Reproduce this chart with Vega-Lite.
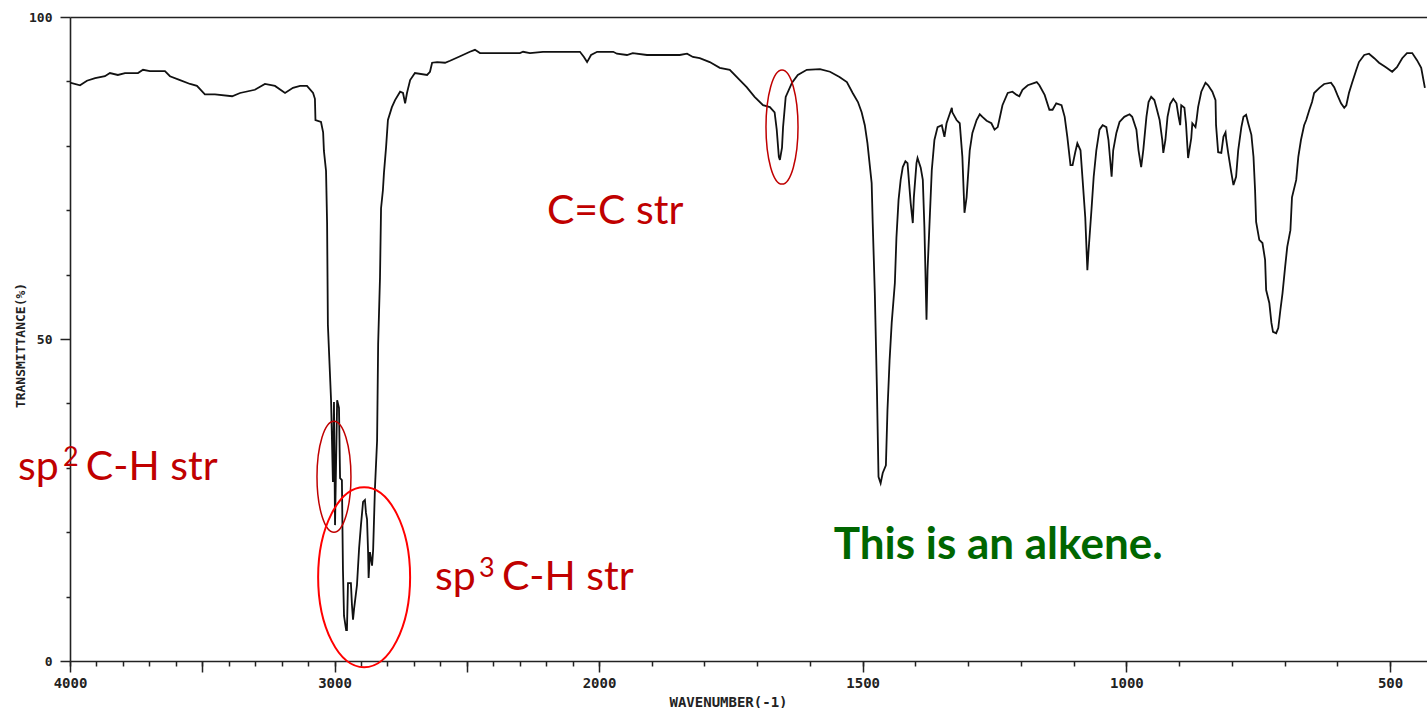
{
  "$schema": "https://vega.github.io/schema/vega-lite/v6.json",
  "width": 1357,
  "height": 644,
  "autosize": {"type": "none"},
  "padding": {"left": 70, "top": 17, "right": 0, "bottom": 47},
  "background": "white",
  "config": {"view": {"stroke": null}, "axis": {"grid": false}},
  "resolve": {"axis": {"x": "independent", "y": "independent"}},
  "layer": [
    {
      "data": {"values": [
        {"wn":4000,"t":89.8},{"wn":3962,"t":89.4},{"wn":3936,"t":90.1},{"wn":3905,"t":90.5},{"wn":3868,"t":90.8},{"wn":3849,"t":91.3},{"wn":3819,"t":91.0},{"wn":3792,"t":91.3},{"wn":3743,"t":91.3},{"wn":3724,"t":91.8},{"wn":3698,"t":91.6},{"wn":3641,"t":91.6},{"wn":3622,"t":90.8},{"wn":3584,"t":90.2},{"wn":3546,"t":89.6},{"wn":3520,"t":89.3},{"wn":3490,"t":88.0},{"wn":3452,"t":88.0},{"wn":3387,"t":87.7},{"wn":3357,"t":88.2},{"wn":3301,"t":88.7},{"wn":3263,"t":89.6},{"wn":3225,"t":89.3},{"wn":3187,"t":88.2},{"wn":3157,"t":89.0},{"wn":3130,"t":89.3},{"wn":3104,"t":89.3},{"wn":3081,"t":88.2},{"wn":3074,"t":87.3},{"wn":3072,"t":84.0},{"wn":3051,"t":83.7},{"wn":3043,"t":82.1},{"wn":3040,"t":79.2},{"wn":3032,"t":76.1},{"wn":3028,"t":68.0},{"wn":3025,"t":52.2},{"wn":3013,"t":40.5},{"wn":3006,"t":27.8},{"wn":3002,"t":40.2},{"wn":2998,"t":21.1},{"wn":2990,"t":40.5},{"wn":2983,"t":39.3},{"wn":2979,"t":28.4},{"wn":2972,"t":28.1},{"wn":2968,"t":14.1},{"wn":2964,"t":7.0},{"wn":2956,"t":4.8},{"wn":2953,"t":4.8},{"wn":2949,"t":12.1},{"wn":2938,"t":12.1},{"wn":2934,"t":8.7},{"wn":2930,"t":6.4},{"wn":2926,"t":8.1},{"wn":2915,"t":11.8},{"wn":2907,"t":17.5},{"wn":2900,"t":21.1},{"wn":2892,"t":24.7},{"wn":2885,"t":25.0},{"wn":2881,"t":23.0},{"wn":2877,"t":22.0},{"wn":2873,"t":16.9},{"wn":2871,"t":12.9},{"wn":2866,"t":16.9},{"wn":2858,"t":14.8},{"wn":2854,"t":17.2},{"wn":2847,"t":26.9},{"wn":2839,"t":34.2},{"wn":2835,"t":49.2},{"wn":2828,"t":59.5},{"wn":2824,"t":70.3},{"wn":2817,"t":73.1},{"wn":2813,"t":75.8},{"wn":2805,"t":79.8},{"wn":2798,"t":84.0},{"wn":2783,"t":86.0},{"wn":2771,"t":87.1},{"wn":2752,"t":88.4},{"wn":2741,"t":88.2},{"wn":2733,"t":86.6},{"wn":2726,"t":88.2},{"wn":2714,"t":90.2},{"wn":2696,"t":91.3},{"wn":2650,"t":91.0},{"wn":2639,"t":91.5},{"wn":2631,"t":92.9},{"wn":2612,"t":93.0},{"wn":2582,"t":92.9},{"wn":2563,"t":93.2},{"wn":2525,"t":93.9},{"wn":2488,"t":94.6},{"wn":2469,"t":94.9},{"wn":2450,"t":94.4},{"wn":2423,"t":94.4},{"wn":2299,"t":94.4},{"wn":2287,"t":94.6},{"wn":2261,"t":94.4},{"wn":2212,"t":94.6},{"wn":2072,"t":94.6},{"wn":2057,"t":93.8},{"wn":2045,"t":93.0},{"wn":2030,"t":94.1},{"wn":2007,"t":94.6},{"wn":1973,"t":94.6},{"wn":1966,"t":94.3},{"wn":1947,"t":94.1},{"wn":1936,"t":94.4},{"wn":1909,"t":94.1},{"wn":1847,"t":94.1},{"wn":1833,"t":94.3},{"wn":1822,"t":93.8},{"wn":1809,"t":93.6},{"wn":1790,"t":93.0},{"wn":1771,"t":92.1},{"wn":1752,"t":91.8},{"wn":1733,"t":90.2},{"wn":1720,"t":89.1},{"wn":1705,"t":87.6},{"wn":1689,"t":86.3},{"wn":1676,"t":86.0},{"wn":1667,"t":85.2},{"wn":1663,"t":82.5},{"wn":1659,"t":78.3},{"wn":1657,"t":77.8},{"wn":1653,"t":79.7},{"wn":1651,"t":82.9},{"wn":1646,"t":87.6},{"wn":1634,"t":89.8},{"wn":1623,"t":91.0},{"wn":1606,"t":91.8},{"wn":1581,"t":91.9},{"wn":1562,"t":91.5},{"wn":1544,"t":90.7},{"wn":1530,"t":89.9},{"wn":1519,"t":88.2},{"wn":1509,"t":86.8},{"wn":1502,"t":85.2},{"wn":1496,"t":83.2},{"wn":1491,"t":80.4},{"wn":1487,"t":77.3},{"wn":1483,"t":74.2},{"wn":1481,"t":68.0},{"wn":1477,"t":57.1},{"wn":1473,"t":42.1},{"wn":1470,"t":28.6},{"wn":1466,"t":27.6},{"wn":1462,"t":29.2},{"wn":1456,"t":30.4},{"wn":1453,"t":39.0},{"wn":1449,"t":46.7},{"wn":1445,"t":52.5},{"wn":1439,"t":58.7},{"wn":1436,"t":65.8},{"wn":1432,"t":71.6},{"wn":1428,"t":74.7},{"wn":1424,"t":76.7},{"wn":1419,"t":77.6},{"wn":1415,"t":77.3},{"wn":1409,"t":71.1},{"wn":1405,"t":68.0},{"wn":1403,"t":72.0},{"wn":1398,"t":77.3},{"wn":1396,"t":78.1},{"wn":1390,"t":76.6},{"wn":1386,"t":74.7},{"wn":1383,"t":67.4},{"wn":1381,"t":60.2},{"wn":1379,"t":53.0},{"wn":1377,"t":60.7},{"wn":1373,"t":68.5},{"wn":1369,"t":76.2},{"wn":1364,"t":80.9},{"wn":1358,"t":82.9},{"wn":1350,"t":83.2},{"wn":1345,"t":81.4},{"wn":1341,"t":83.5},{"wn":1331,"t":85.9},{"wn":1330,"t":85.2},{"wn":1322,"t":84.0},{"wn":1316,"t":83.5},{"wn":1311,"t":78.3},{"wn":1307,"t":69.6},{"wn":1303,"t":72.0},{"wn":1297,"t":79.3},{"wn":1292,"t":82.0},{"wn":1284,"t":84.0},{"wn":1278,"t":84.9},{"wn":1273,"t":84.5},{"wn":1265,"t":83.9},{"wn":1256,"t":83.5},{"wn":1250,"t":82.5},{"wn":1244,"t":82.9},{"wn":1241,"t":84.0},{"wn":1235,"t":86.3},{"wn":1225,"t":88.2},{"wn":1216,"t":88.4},{"wn":1208,"t":87.9},{"wn":1203,"t":87.7},{"wn":1197,"t":88.7},{"wn":1187,"t":89.4},{"wn":1170,"t":89.9},{"wn":1165,"t":89.4},{"wn":1155,"t":87.9},{"wn":1146,"t":85.6},{"wn":1140,"t":85.6},{"wn":1133,"t":86.6},{"wn":1123,"t":86.3},{"wn":1117,"t":84.5},{"wn":1112,"t":81.4},{"wn":1106,"t":77.0},{"wn":1102,"t":77.0},{"wn":1097,"t":79.0},{"wn":1093,"t":80.4},{"wn":1087,"t":79.3},{"wn":1083,"t":74.7},{"wn":1078,"t":68.9},{"wn":1074,"t":60.7},{"wn":1072,"t":63.4},{"wn":1066,"t":70.3},{"wn":1062,"t":75.2},{"wn":1057,"t":79.3},{"wn":1051,"t":82.5},{"wn":1045,"t":83.2},{"wn":1038,"t":82.9},{"wn":1034,"t":80.9},{"wn":1028,"t":75.2},{"wn":1025,"t":79.3},{"wn":1019,"t":82.0},{"wn":1013,"t":83.7},{"wn":1004,"t":84.5},{"wn":994,"t":84.9},{"wn":989,"t":84.5},{"wn":981,"t":82.5},{"wn":977,"t":79.3},{"wn":972,"t":76.7},{"wn":968,"t":79.3},{"wn":962,"t":84.5},{"wn":958,"t":86.8},{"wn":953,"t":87.6},{"wn":947,"t":87.1},{"wn":943,"t":85.9},{"wn":937,"t":84.0},{"wn":932,"t":80.9},{"wn":930,"t":78.9},{"wn":926,"t":80.9},{"wn":922,"t":84.5},{"wn":917,"t":86.5},{"wn":911,"t":87.3},{"wn":905,"t":86.6},{"wn":901,"t":84.5},{"wn":898,"t":83.2},{"wn":896,"t":86.3},{"wn":890,"t":85.9},{"wn":887,"t":83.5},{"wn":883,"t":78.1},{"wn":877,"t":81.2},{"wn":875,"t":83.5},{"wn":869,"t":82.9},{"wn":867,"t":84.0},{"wn":864,"t":86.0},{"wn":858,"t":88.4},{"wn":850,"t":89.8},{"wn":845,"t":89.4},{"wn":837,"t":88.4},{"wn":831,"t":87.1},{"wn":830,"t":83.2},{"wn":826,"t":79.0},{"wn":820,"t":78.9},{"wn":816,"t":81.4},{"wn":812,"t":82.1},{"wn":811,"t":81.2},{"wn":807,"t":78.9},{"wn":801,"t":75.8},{"wn":797,"t":73.9},{"wn":792,"t":75.2},{"wn":788,"t":79.3},{"wn":782,"t":82.9},{"wn":778,"t":84.5},{"wn":773,"t":84.8},{"wn":769,"t":83.5},{"wn":763,"t":81.7},{"wn":759,"t":78.3},{"wn":756,"t":73.1},{"wn":754,"t":68.2},{"wn":748,"t":65.4},{"wn":742,"t":64.9},{"wn":737,"t":62.3},{"wn":735,"t":57.6},{"wn":729,"t":55.6},{"wn":725,"t":52.5},{"wn":722,"t":51.1},{"wn":716,"t":50.9},{"wn":712,"t":51.7},{"wn":708,"t":54.5},{"wn":704,"t":57.1},{"wn":699,"t":61.2},{"wn":695,"t":64.3},{"wn":689,"t":66.9},{"wn":686,"t":72.0},{"wn":678,"t":74.7},{"wn":674,"t":78.3},{"wn":669,"t":80.9},{"wn":663,"t":83.2},{"wn":659,"t":84.0},{"wn":653,"t":85.6},{"wn":648,"t":86.8},{"wn":644,"t":88.2},{"wn":634,"t":89.0},{"wn":625,"t":89.6},{"wn":612,"t":89.8},{"wn":606,"t":89.1},{"wn":600,"t":87.9},{"wn":593,"t":86.6},{"wn":587,"t":85.9},{"wn":583,"t":86.3},{"wn":578,"t":88.2},{"wn":572,"t":89.8},{"wn":564,"t":91.8},{"wn":559,"t":93.0},{"wn":549,"t":94.1},{"wn":540,"t":94.3},{"wn":530,"t":93.6},{"wn":521,"t":92.9},{"wn":508,"t":92.2},{"wn":496,"t":91.5},{"wn":487,"t":92.2},{"wn":477,"t":93.6},{"wn":468,"t":94.4},{"wn":458,"t":94.4},{"wn":449,"t":93.3},{"wn":441,"t":92.1},{"wn":434,"t":89.0}
      ]},
      "mark": {"type": "line", "color": "#111111", "strokeWidth": 1.8},
      "encoding": {
        "x": {"field": "wn", "type": "quantitative",
          "scale": {"domain": [4000, 2000, 430], "range": [0, 529, 1357], "nice": false, "zero": false},
          "axis": {"orient": "bottom", "values": [4000, 3500, 3000, 2500, 2000, 1500, 1000, 500],
            "labelExpr": "datum.value == 3500 || datum.value == 2500 ? '' : datum.label",
            "format": "d", "tickSize": 11, "tickWidth": 1.5, "tickColor": "#222", "domainColor": "#222", "domainWidth": 1.6,
            "labelFont": "DejaVu Sans Mono", "labelFontSize": 14, "labelFontWeight": "bold", "labelColor": "#222", "labelPadding": 4,
            "labelFlush": false, "labelOverlap": false, "labelBound": false,
            "title": "WAVENUMBER(-1)", "titleFont": "DejaVu Sans Mono", "titleFontSize": 14, "titleFontWeight": "bold", "titleColor": "#222",
            "titleX": 658, "titleY": 45, "titleBaseline": "alphabetic", "titleAlign": "center"}},
        "y": {"field": "t", "type": "quantitative",
          "scale": {"domain": [0, 100], "nice": false, "zero": false},
          "axis": {"orient": "left", "values": [0, 50, 100], "tickSize": 10, "tickWidth": 1.5, "tickColor": "#222", "domainColor": "#222", "domainWidth": 1.6,
            "labelFont": "DejaVu Sans Mono", "labelFontSize": 13, "labelFontWeight": "bold", "labelColor": "#222", "labelPadding": 8, "labelFlush": false, "labelOverlap": false,
            "title": "TRANSMITTANCE(%)", "titleFont": "DejaVu Sans Mono", "titleFontSize": 13, "titleFontWeight": "bold", "titleColor": "#222",
            "titleAngle": -90, "titleX": -50, "titleY": 328, "titleAlign": "center", "titleBaseline": "middle"}},
        "order": {"value": null}
      }
    },
    {
      "data": {"values": [{"wn": 3002, "t": 28.6}]},
      "mark": {"type": "point", "shape": "M -0.306 0 A 0.306 1 0 1 0 0.306 0 A 0.306 1 0 1 0 -0.306 0 Z", "size": 12321, "filled": false, "color": "#C00000", "strokeWidth": 1.5, "opacity": 1},
      "encoding": {
        "x": {"field": "wn", "type": "quantitative",
          "axis": {"orient": "bottom", "values": [4000,3900,3800,3700,3600,3500,3400,3300,3200,3100,3000,2900,2800,2700,2600,2500,2400,2300,2200,2100,2000,1900,1800,1700,1600,1500,1400,1300,1200,1100,1000,900,800,700,600,500],
            "tickSize": 5, "tickWidth": 1.5, "tickColor": "#222", "domain": false, "labels": false, "title": null}},
        "y": {"field": "t", "type": "quantitative",
          "axis": {"orient": "left", "values": [10, 20, 30, 40, 60, 70, 80, 90], "tickSize": 4, "tickWidth": 1.5, "tickColor": "#222", "domain": false, "labels": false, "title": null}}
      }
    },
    {
      "data": {"values": [{"wn": 2888, "t": 13.0}]},
      "mark": {"type": "point", "shape": "M -0.511 0 A 0.511 1 0 1 0 0.511 0 A 0.511 1 0 1 0 -0.511 0 Z", "size": 32400, "filled": false, "color": "#FF0000", "strokeWidth": 2, "opacity": 1},
      "encoding": {
        "x": {"field": "wn", "type": "quantitative",
          "axis": {"orient": "top", "ticks": false, "labels": false, "domain": true, "domainColor": "#222", "domainWidth": 1.6, "title": null}},
        "y": {"field": "t", "type": "quantitative", "axis": null}
      }
    },
    {
      "data": {"values": [{"wn": 1653, "t": 82.9}]},
      "mark": {"type": "point", "shape": "M -0.281 0 A 0.281 1 0 1 0 0.281 0 A 0.281 1 0 1 0 -0.281 0 Z", "size": 12996, "filled": false, "color": "#C00000", "strokeWidth": 1.5, "opacity": 1},
      "encoding": {
        "x": {"field": "wn", "type": "quantitative", "axis": null},
        "y": {"field": "t", "type": "quantitative", "axis": null}
      }
    },
    {
      "data": {"values": [
        {"label": "sp", "wn": 4197, "t": 28.1},
        {"label": "C-H str", "wn": 3940, "t": 28.1},
        {"label": "sp", "wn": 2620, "t": 11.0},
        {"label": "C-H str", "wn": 2367, "t": 11.0},
        {"label": "C=C str", "wn": 2197, "t": 67.9}
      ]},
      "mark": {"type": "text", "align": "left", "baseline": "alphabetic", "font": "Lato", "fontSize": 41, "color": "#C00000"},
      "encoding": {
        "x": {"field": "wn", "type": "quantitative", "axis": null},
        "y": {"field": "t", "type": "quantitative", "axis": null},
        "text": {"field": "label"}
      }
    },
    {
      "data": {"values": [
        {"label": "2", "wn": 4026, "t": 30.3},
        {"label": "3", "wn": 2454, "t": 13.0}
      ]},
      "mark": {"type": "text", "align": "left", "baseline": "alphabetic", "font": "Lato", "fontSize": 27, "color": "#C00000"},
      "encoding": {
        "x": {"field": "wn", "type": "quantitative", "axis": null},
        "y": {"field": "t", "type": "quantitative", "axis": null},
        "text": {"field": "label"}
      }
    },
    {
      "data": {"values": [{"label": "This is an alkene.", "wn": 1555, "t": 15.8}]},
      "mark": {"type": "text", "align": "left", "baseline": "alphabetic", "font": "Lato", "fontSize": 44, "fontWeight": "bold", "color": "#006600"},
      "encoding": {
        "x": {"field": "wn", "type": "quantitative", "axis": null},
        "y": {"field": "t", "type": "quantitative", "axis": null},
        "text": {"field": "label"}
      }
    }
  ]
}
